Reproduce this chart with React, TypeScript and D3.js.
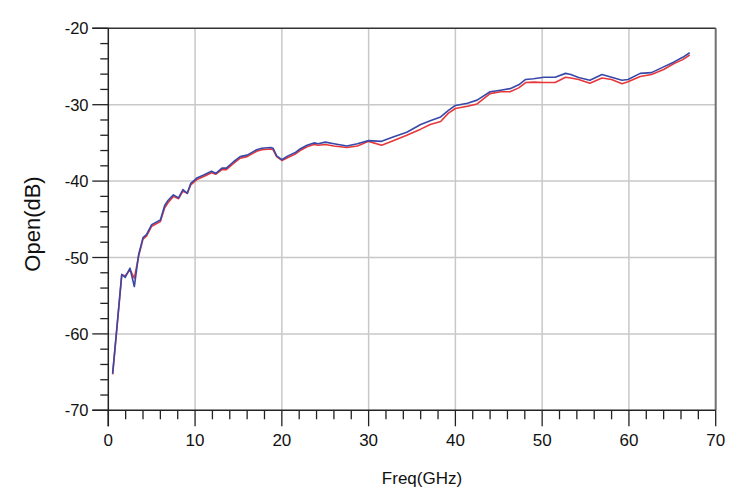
import React from "react";
import * as d3 from "d3";

const freq = [0.5, 1.0, 1.55, 1.95, 2.5, 3.0, 3.5, 4.0, 4.4, 5.0, 6.0, 6.5, 6.9, 7.5, 8.1, 8.6, 9.1, 9.5, 10.2, 11.0, 11.9, 12.4, 13.1, 13.6, 14.4, 15.2, 16.0, 17.1, 17.7, 18.7, 19.0, 19.4, 20.0, 20.7, 21.5, 22.1, 22.9, 23.7, 24.2, 25.0, 26.0, 27.5, 28.7, 30.0, 31.5, 32.9, 34.4, 36.0, 37.1, 38.3, 39.2, 40.0, 41.4, 42.5, 44.0, 45.2, 46.3, 47.3, 48.1, 49.0, 50.2, 51.5, 52.7, 53.3, 54.2, 55.5, 56.9, 58.0, 59.2, 59.9, 61.3, 62.6, 64.0, 65.2, 66.2, 67.0];

const blueSeries = [-65.2, -59, -52.2, -52.6, -51.4, -53.8, -49.6, -47.4, -47.0, -45.7, -45.1, -43.2, -42.5, -41.8, -42.2, -41.1, -41.6, -40.3, -39.6, -39.2, -38.7, -39.0, -38.3, -38.3, -37.5, -36.8, -36.6, -35.9, -35.7, -35.6, -35.7, -36.7, -37.2, -36.7, -36.3, -35.8, -35.3, -35.0, -35.1, -34.9, -35.1, -35.4, -35.1, -34.7, -34.8, -34.2, -33.6, -32.6, -32.1, -31.6, -30.75, -30.1, -29.8, -29.4, -28.3, -28.1, -27.9, -27.4, -26.7, -26.6, -26.4, -26.4, -25.9, -26.05, -26.45, -26.8, -26.05, -26.4, -26.8, -26.7, -25.9, -25.8, -25.05, -24.4, -23.8, -23.2];

const redSeries = [-65.3, -59.2, -52.3, -52.4, -51.6, -52.7, -49.8, -47.6, -47.2, -45.9, -45.3, -43.5, -42.8, -42.0, -42.3, -41.3, -41.6, -40.5, -39.8, -39.4, -38.9, -39.1, -38.5, -38.5, -37.7, -37.0, -36.8, -36.1, -35.9, -35.8, -35.9, -36.8, -37.3, -36.9, -36.5, -36.0, -35.5, -35.2, -35.3, -35.2, -35.4, -35.6, -35.4, -34.8, -35.3, -34.7, -34.0, -33.2, -32.6, -32.2, -31.1, -30.5, -30.2, -29.9, -28.55, -28.3, -28.3, -27.8, -27.1, -27.05, -27.1, -27.1, -26.4, -26.5, -26.7, -27.2, -26.5, -26.7, -27.25, -27.0, -26.3, -26.05, -25.4, -24.6, -24.1, -23.5];

const xTicks = [0, 10, 20, 30, 40, 50, 60, 70];
const yTicks = [-70, -60, -50, -40, -30, -20];
const xMinor = d3.range(0, 70.001, 2);
const yMinor = d3.range(-70, -19.999, 2);

const W = 737;
const H = 489;
const L = 108.3, R = 715.7, T = 28.3, B = 410.3;

export default function App() {
  const x = d3.scaleLinear().domain([0, 70]).range([L, R]);
  const y = d3.scaleLinear().domain([-70, -20]).range([B, T]);
  const line = d3
    .line<number>()
    .x((_, i) => x(freq[i]))
    .y((d) => y(d));
  const font = "Liberation Sans, Arial, sans-serif";
  return (
    <svg
      width={W}
      height={H}
      style={{ position: "absolute", left: 0, top: 0, background: "#fff" }}
      fontFamily={font}
    >
      <rect x={0} y={0} width={W} height={H} fill="#fff" />
      {/* grid */}
      {xTicks.slice(1, -1).map((t) => (
        <line key={"gx" + t} x1={x(t)} x2={x(t)} y1={T} y2={B} stroke="#c8c8c8" strokeWidth={1.5} />
      ))}
      {yTicks.slice(1, -1).map((t) => (
        <line key={"gy" + t} x1={L} x2={R} y1={y(t)} y2={y(t)} stroke="#c8c8c8" strokeWidth={1.5} />
      ))}
      {/* frame */}
      <line x1={R} x2={R} y1={T} y2={B} stroke="#707070" strokeWidth={2} />
      <line x1={L - 16} x2={R} y1={T} y2={T} stroke="#333" strokeWidth={1.5} />
      <line x1={L - 16} x2={R} y1={B} y2={B} stroke="#222" strokeWidth={1.5} />
      <line x1={L} x2={L} y1={T} y2={B + 16} stroke="#222" strokeWidth={1.5} />
      {/* y ticks */}
      {yMinor.map((t) => (
        <line key={"ym" + t} x1={yTicks.includes(Math.round(t)) ? L - 16 : L - 8} x2={L} y1={y(t)} y2={y(t)} stroke="#222" strokeWidth={1.3} />
      ))}
      {xMinor.map((t) => (
        <line key={"xm" + t} x1={x(t)} x2={x(t)} y1={B} y2={xTicks.includes(Math.round(t)) ? B + 16 : B + 9} stroke="#222" strokeWidth={1.3} />
      ))}
      {/* labels */}
      {yTicks.map((t) => (
        <text key={"yl" + t} x={88.5} y={y(t) + 6} textAnchor="end" fontSize={16.5} fill="#111">
          {t}
        </text>
      ))}
      {xTicks.map((t) => (
        <text key={"xl" + t} x={x(t)} y={445.5} textAnchor="middle" fontSize={17} fill="#111">
          {t}
        </text>
      ))}
      <text x={422} y={484} textAnchor="middle" fontSize={17} fill="#111">
        Freq(GHz)
      </text>
      <text transform="translate(39.5,224) rotate(-90)" textAnchor="middle" fontSize={22} fill="#111">
        Open(dB)
      </text>
      {/* series */}
      <path d={line(redSeries) || ""} fill="none" stroke="#e8373a" strokeWidth={1.6} strokeLinejoin="round" />
      <path d={line(blueSeries) || ""} fill="none" stroke="#3848a8" strokeWidth={1.6} strokeLinejoin="round" />
    </svg>
  );
}
